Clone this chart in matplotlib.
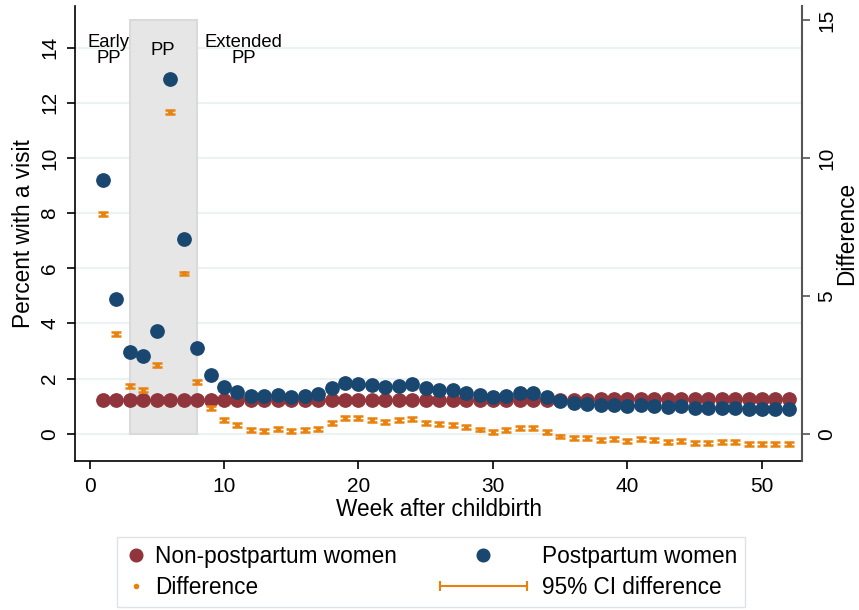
import matplotlib
matplotlib.use("Agg")
import matplotlib.pyplot as plt
from matplotlib.patches import Rectangle
from matplotlib.lines import Line2D
from matplotlib.legend_handler import HandlerBase

plt.rcParams['font.family'] = ['Liberation Sans', 'DejaVu Sans']

# Weekly visit rates (percent)
weeks = list(range(1, 53))

non_pp = [1.21, 1.21, 1.21, 1.22, 1.21, 1.21, 1.22, 1.21, 1.21, 1.21,
          1.22, 1.22, 1.22, 1.22, 1.22, 1.22, 1.22, 1.22, 1.22, 1.22,
          1.23, 1.23, 1.23, 1.23, 1.23, 1.23, 1.23, 1.23, 1.23, 1.23,
          1.23, 1.23, 1.23, 1.24, 1.24, 1.24, 1.24, 1.25, 1.25, 1.25,
          1.25, 1.25, 1.25, 1.25, 1.25, 1.26, 1.26, 1.26, 1.26, 1.26,
          1.26, 1.26]

pp = [9.19, 4.87, 2.98, 2.80, 3.73, 12.87, 7.07, 3.11, 2.12, 1.71,
      1.53, 1.37, 1.36, 1.40, 1.34, 1.37, 1.44, 1.64, 1.83, 1.81,
      1.75, 1.68, 1.74, 1.79, 1.64, 1.58, 1.58, 1.47, 1.40, 1.32,
      1.38, 1.47, 1.47, 1.33, 1.17, 1.11, 1.06, 1.04, 1.05, 0.99,
      1.04, 1.01, 0.97, 0.99, 0.92, 0.92, 0.94, 0.94, 0.89, 0.89,
      0.89, 0.89]

diff = [7.97, 3.63, 1.74, 1.57, 2.50, 11.65, 5.81, 1.86, 0.92, 0.50,
        0.31, 0.12, 0.11, 0.17, 0.09, 0.13, 0.17, 0.38, 0.57, 0.57,
        0.51, 0.41, 0.50, 0.54, 0.38, 0.34, 0.33, 0.23, 0.15, 0.05,
        0.13, 0.22, 0.22, 0.05, -0.10, -0.16, -0.17, -0.22, -0.19, -0.27,
        -0.19, -0.23, -0.29, -0.25, -0.34, -0.34, -0.31, -0.31, -0.38, -0.38,
        -0.36, -0.36]

ci_half = 0.07

# postpartum visit window
pp_start, pp_end, pp_top = 3, 8, 15

navy = '#1a476f'
maroon = '#90353b'
orange = '#e8820c'
grid_col = '#eaf2f3'

fig = plt.figure(figsize=(8.59, 6.10), dpi=100)
ax = fig.add_axes([0.087, 0.2438, 0.847, 0.7469])

ax.set_xlim(-1.1, 53.0)
ax.set_ylim(-1, 15.52)

# grid lines behind everything
ax.set_yticks(range(0, 15, 2))
ax.grid(axis='y', color=grid_col, linewidth=1.5, zorder=0)
ax.set_axisbelow(True)

# shaded postpartum window
ax.add_patch(Rectangle((pp_start, 0), pp_end - pp_start, pp_top,
                       facecolor='#e6e6e6', edgecolor='#dadada', linewidth=1.5, zorder=1))

ax.scatter(weeks, non_pp, s=92, color=maroon, zorder=3)
ax.scatter(weeks, pp, s=92, color=navy, zorder=4)
ax.errorbar(weeks, diff, yerr=ci_half, fmt='o', ms=2.5, color=orange,
            ecolor=orange, elinewidth=1.5, capsize=3.6, capthick=1.8, zorder=5)

# period labels
ax.text(1.41, 13.9, "Early\nPP", ha='center', va='center', fontsize=13.3, linespacing=0.92, zorder=6)
ax.text(5.43, 13.88, "PP", ha='center', va='center', fontsize=13.3, zorder=6)
ax.text(11.45, 13.9, "Extended\nPP", ha='center', va='center', fontsize=13.3, linespacing=0.92, zorder=6)

ax.set_xticks(range(0, 51, 10))
ax.tick_params(axis='x', labelsize=15, length=6, width=1.2, pad=5)
ax.tick_params(axis='y', labelsize=15, length=6, width=1.2, pad=5, labelrotation=90)
for lbl in ax.get_yticklabels():
    lbl.set_va('center')

ax.set_xlabel("Week after childbirth", fontsize=16.3, labelpad=2)
ax.set_ylabel("Percent with a visit", fontsize=16.3, labelpad=4)

ax.spines['top'].set_visible(False)
ax.spines['right'].set_visible(False)
ax.spines['left'].set_linewidth(1.2)
ax.spines['bottom'].set_linewidth(1.2)

# right axis for the difference, same scale
ax2 = ax.twinx()
ax2.set_ylim(ax.get_ylim())
ax2.set_yticks([0, 5, 10, 15])
ax2.tick_params(axis='y', labelsize=15, length=6, width=1.2, pad=5, labelrotation=90, color='#555555')
for lbl in ax2.get_yticklabels():
    lbl.set_va('center')
ax2.set_ylabel("Difference", fontsize=16.3, labelpad=-1)
for side in ['top', 'left', 'bottom']:
    ax2.spines[side].set_visible(False)
ax2.spines['right'].set_color('#555555')
ax2.spines['right'].set_linewidth(1.5)


class HandlerWideKey(HandlerBase):
    # key drawn in a wide slot that reaches left of the handle box
    def __init__(self, kind):
        super().__init__()
        self.kind = kind

    def create_artists(self, legend, orig_handle, xdescent, ydescent, width, height, fontsize, trans):
        y = height / 2 - ydescent
        x1 = width - xdescent - 5.3
        x0 = x1 - 62
        if self.kind == 'ci':
            line = Line2D([x0, x1], [y, y], color=orange, lw=1.5, transform=trans)
            caps = Line2D([x0, x1], [y, y], ls='none', marker='|', ms=7, mew=1.5,
                          color=orange, transform=trans)
            return [line, caps]
        dot = Line2D([(x0 + x1) / 2], [y], ls='none', marker='o', ms=9.1,
                     color=navy, transform=trans)
        return [dot]


h_non = Line2D([], [], ls='none', marker='o', ms=9.1, color=maroon)
h_pp = Line2D([], [], ls='none', marker='o', ms=9.1, color=navy)
h_diff = Line2D([], [], ls='none', marker='o', ms=3, color=orange)
h_ci = Line2D([], [], color=orange)

leg = fig.legend([h_non, h_diff, h_pp, h_ci],
                 ["Non-postpartum women", "Difference", "Postpartum women", "95% CI difference"],
                 handler_map={h_ci: HandlerWideKey('ci'), h_pp: HandlerWideKey('dot')},
                 ncol=2, mode='expand', loc='center', borderaxespad=0,
                 bbox_to_anchor=(117 / 859, 1 - 608.3 / 610, 628 / 859, 72.6 / 610),
                 fontsize=16.3, handlelength=1.0, handletextpad=0.34, borderpad=0.36,
                 labelspacing=0.35, fancybox=False, edgecolor='#dde3e6', framealpha=1)
leg.get_frame().set_linewidth(1.0)

fig.savefig("out.png", dpi=100)
